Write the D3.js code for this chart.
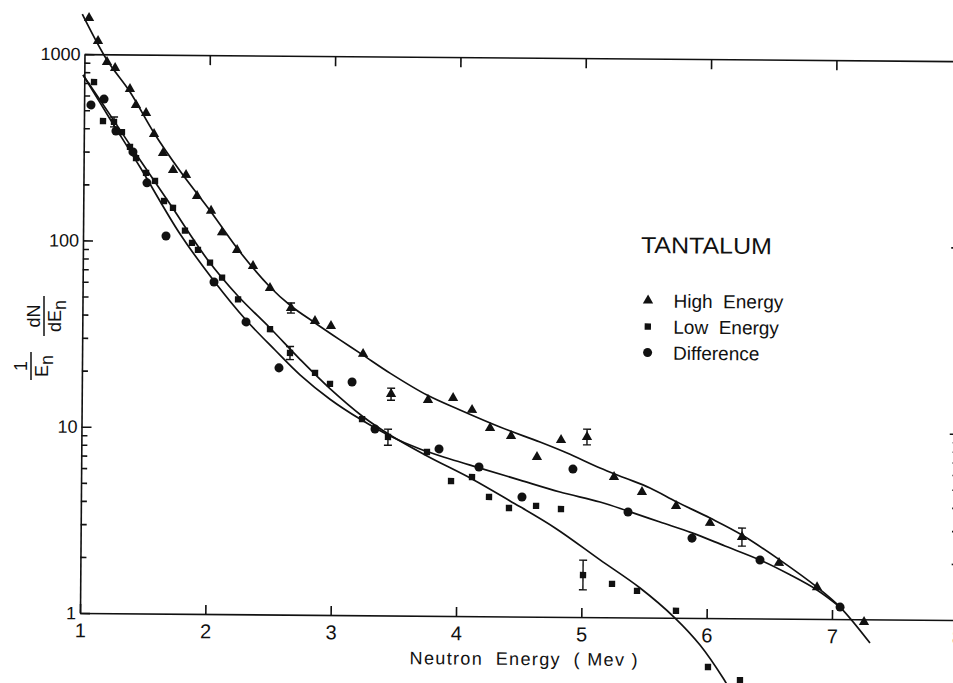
<!DOCTYPE html>

<head>
  <meta charset="utf-8">
  <script src="https://d3js.org/d3.v7.min.js"></script>
  <style>
    body {
      margin: 0;
      background: #fff;
    }

    text {
      font-family: "Liberation Sans", Arial, sans-serif;
      fill: #111;
    }
  </style>
</head>

<body>
  <script>
    // size of the page / picture
    var outerWidth = 953,
      outerHeight = 683;

    // tick values
    var xTicks = [1, 2, 3, 4, 5, 6, 7, 8];
    var topTicks = [2, 3, 4, 5, 6, 7];
    var yTicks = [1, 10, 100, 1000];
    var yMinorTicks = [2, 3, 4, 5, 6, 7, 8, 9, 20, 30, 40, 50, 60, 70, 80, 90, 200, 300, 400, 500, 600, 700, 800, 900];
    var rightTicks = [10, 100];
    var rightMinorTicks = [2, 3, 4, 5, 6, 7, 8, 9];

    // measured points [neutron energy (Mev), 1/En dN/dEn]
    var highEnergy = [
      [1.034, 1564], [1.107, 1178], [1.180, 909], [1.245, 845], [1.365, 653], [1.414, 536], [1.495, 486],
      [1.560, 375], [1.633, 297], [1.714, 241], [1.818, 227], [1.907, 175], [2.020, 146], [2.109, 112],
      [2.230, 90.2], [2.358, 74.1], [2.495, 56.6], [2.664, 44.3], [2.856, 37.8], [2.984, 35.6], [3.242, 25.3],
      [3.468, 15.45], [3.763, 14.4], [3.963, 14.8], [4.115, 12.8], [4.260, 10.25], [4.428, 9.30], [4.636, 7.19],
      [4.827, 8.90], [5.034, 9.26], [5.252, 5.66], [5.476, 4.72], [5.749, 3.98], [6.021, 3.24], [6.277, 2.73],
      [6.574, 1.99], [6.879, 1.48], [7.256, 0.967]
    ];

    var lowEnergy = [
      [1.078, 709], [1.152, 438], [1.240, 434], [1.304, 383], [1.369, 319], [1.418, 278], [1.499, 232],
      [1.571, 210], [1.644, 164], [1.716, 151], [1.813, 114], [1.870, 98], [1.918, 90], [2.015, 77],
      [2.112, 64], [2.241, 49], [2.498, 34], [2.659, 25.4], [2.860, 19.9], [2.980, 17.4], [3.238, 11.3],
      [3.446, 9.08], [3.758, 7.57], [3.952, 5.30], [4.119, 5.58], [4.256, 4.37], [4.416, 3.82], [4.632, 3.93],
      [4.831, 3.79], [5.011, 1.68], [5.243, 1.51], [5.443, 1.39], [5.755, 1.09], [6.014, 0.546], [6.270, 0.466]
    ];

    var difference = [
      [1.055, 534], [1.159, 575], [1.256, 388], [1.393, 300], [1.507, 205], [1.662, 106.5], [2.048, 60.6],
      [2.306, 37.1], [2.572, 21.1], [3.156, 17.85], [3.342, 10.0], [3.854, 7.87], [4.174, 6.32], [4.519, 4.38],
      [4.924, 6.22], [5.366, 3.68], [5.878, 2.68], [6.422, 2.06], [7.064, 1.16]
    ];

    // error bars [energy, low, high]
    var highErrors = [[2.664, 41.6, 47.1], [3.468, 14.3, 16.6], [5.034, 8.4, 10.2], [6.277, 2.44, 3.05]];
    var lowErrors = [[1.240, 408, 461], [2.659, 23.4, 27.5], [3.446, 8.2, 10.0], [5.011, 1.40, 2.02]];

    // the drawn curves
    var highCurve = [
      [0.98, 1640], [1.180, 932], [1.366, 629], [1.560, 380], [1.770, 238], [2.020, 144], [2.254, 88],
      [2.495, 57.3], [2.664, 45.4], [2.857, 36.9], [3.057, 30.0], [3.242, 24.9], [3.458, 20.0], [3.755, 15.3],
      [4.019, 12.76], [4.339, 10.38], [4.659, 8.66], [4.876, 7.58], [5.140, 6.32], [5.340, 5.60], [5.540, 4.96],
      [5.756, 4.18], [6.021, 3.44], [6.277, 2.80], [6.582, 2.06], [6.879, 1.48], [7.064, 1.16], [7.305, 0.746]
    ];

    var lowCurve = [
      [0.990, 772], [1.208, 473], [1.450, 272], [1.692, 158], [1.991, 80.5], [2.240, 51.1], [2.498, 34.5],
      [2.739, 23.5], [2.980, 16.4], [3.238, 11.74], [3.462, 9.31], [3.759, 7.21], [4.119, 5.45], [4.424, 4.17],
      [4.785, 3.00], [5.146, 2.03], [5.467, 1.44], [5.748, 0.997], [5.949, 0.716], [6.135, 0.477], [6.191, 0.412]
    ];

    var diffCurve = [
      [0.990, 772], [1.208, 450], [1.450, 249], [1.774, 109.3], [2.048, 61.4], [2.306, 38.0], [2.539, 26.3],
      [2.740, 19.4], [2.981, 14.4], [3.222, 11.3], [3.462, 9.2], [3.702, 7.85], [3.942, 6.96], [4.182, 6.24],
      [4.502, 5.40], [4.822, 4.68], [5.142, 4.15], [5.366, 3.72], [5.622, 3.26], [5.878, 2.86], [6.142, 2.44],
      [6.422, 2.06], [6.663, 1.72], [6.879, 1.43], [7.064, 1.16]
    ];

    var legendLabels = ["High  Energy", "Low  Energy", "Difference"];

    var ink = "#111";

    var xScale = d3.scaleLinear()
      .domain([1, 8])
      .range([80, 957.3]);

    var yScale = d3.scaleLog()
      .domain([1, 1000])
      .range([613, 54.1]);

    var svg = d3.select("body")
      .append("svg")
      .attr("width", outerWidth)
      .attr("height", outerHeight);

    // the scanned page sits slightly turned clockwise
    var chart = svg.append("g")
      .attr("transform", "rotate(0.46, 80, 613)");

    function styleAxis(g, fontSize) {
      g.attr("font-size", fontSize);
      g.selectAll("path, line").attr("stroke", ink).attr("stroke-width", 1.6);
    }

    // left axis with labels
    chart.append("g")
      .attr("transform", "translate(80,0)")
      .call(d3.axisLeft(yScale).tickValues(yTicks).tickFormat(d3.format("d"))
        .tickSize(-10).tickSizeOuter(0).tickPadding(4))
      .call(styleAxis, 18);

    chart.append("g")
      .attr("transform", "translate(80,0)")
      .call(d3.axisLeft(yScale).tickValues(yMinorTicks).tickFormat("").tickSize(-6).tickSizeOuter(0))
      .call(styleAxis, 10)
      .select(".domain").remove();

    // right side ticks (frame line is off the page)
    chart.append("g")
      .attr("transform", "translate(" + xScale(8) + ",0)")
      .call(d3.axisRight(yScale).tickValues(rightTicks).tickFormat("").tickSize(-9).tickSizeOuter(0))
      .call(styleAxis, 10)
      .select(".domain").remove();

    chart.append("g")
      .attr("transform", "translate(" + xScale(8) + ",0)")
      .call(d3.axisRight(yScale).tickValues(rightMinorTicks).tickFormat("").tickSize(-6).tickSizeOuter(0))
      .call(styleAxis, 10)
      .select(".domain").remove();

    // bottom axis
    chart.append("g")
      .attr("transform", "translate(0," + yScale(1) + ")")
      .call(d3.axisBottom(xScale).tickValues(xTicks).tickFormat(d3.format("d"))
        .tickSize(-9).tickSizeOuter(0).tickPadding(10))
      .call(styleAxis, 20);

    // top axis
    chart.append("g")
      .attr("transform", "translate(0," + yScale(1000) + ")")
      .call(d3.axisTop(xScale).tickValues(topTicks).tickFormat("").tickSize(-10).tickSizeOuter(0))
      .call(styleAxis, 10);

    // curves
    var line = d3.line()
      .x(function(d) { return xScale(d[0]); })
      .y(function(d) { return yScale(d[1]); })
      .curve(d3.curveCatmullRom.alpha(0.5));

    [highCurve, lowCurve, diffCurve].forEach(function(c) {
      chart.append("path")
        .datum(c)
        .attr("d", line)
        .attr("fill", "none")
        .attr("stroke", ink)
        .attr("stroke-width", 1.7);
    });

    // error bars
    function drawErrors(errs) {
      var g = chart.append("g").attr("stroke", ink).attr("stroke-width", 1.4);
      errs.forEach(function(e) {
        var x = xScale(e[0]);
        g.append("line").attr("x1", x).attr("x2", x).attr("y1", yScale(e[1])).attr("y2", yScale(e[2]));
        g.append("line").attr("x1", x - 4).attr("x2", x + 4).attr("y1", yScale(e[1])).attr("y2", yScale(e[1]));
        g.append("line").attr("x1", x - 4).attr("x2", x + 4).attr("y1", yScale(e[2])).attr("y2", yScale(e[2]));
      });
    }
    drawErrors(highErrors);
    drawErrors(lowErrors);

    // markers
    var triangle = d3.symbol().type(d3.symbolTriangle).size(46);
    var square = d3.symbol().type(d3.symbolSquare).size(40);
    var circle = d3.symbol().type(d3.symbolCircle).size(64);

    function drawPoints(data, sym) {
      chart.append("g")
        .selectAll("path")
        .data(data)
        .enter()
        .append("path")
        .attr("d", sym)
        .attr("fill", ink)
        .attr("transform", function(d) {
          return "translate(" + xScale(d[0]) + "," + yScale(d[1]) + ")";
        });
    }
    drawPoints(highEnergy, triangle);
    drawPoints(lowEnergy, square);
    drawPoints(difference, circle);

    // title and legend
    chart.append("text")
      .attr("x", 638)
      .attr("y", 248.5)
      .attr("font-size", 23)
      .attr("textLength", 131)
      .attr("lengthAdjust", "spacingAndGlyphs")
      .text("TANTALUM");

    var legendSymbols = [triangle, square, circle];
    legendLabels.forEach(function(label, i) {
      var y = 296 + i * 26;
      chart.append("path")
        .attr("d", legendSymbols[i])
        .attr("fill", ink)
        .attr("transform", "translate(645.5," + y + ")");
      chart.append("text")
        .attr("x", 671)
        .attr("y", y + 7)
        .attr("font-size", 19)
        .style("white-space", "pre")
        .text(label);
    });

    // x axis title
    chart.append("text")
      .attr("x", 410)
      .attr("y", 661.5)
      .attr("font-size", 18)
      .attr("textLength", 228)
      .attr("lengthAdjust", "spacing")
      .style("white-space", "pre")
      .text("Neutron  Energy  ( Mev )");

    // y axis title: 1/En dN/dEn, turned on its side
    function fraction(cx, cy, top, bottom, half) {
      var g = svg.append("g")
        .attr("transform", "translate(" + cx + "," + cy + ") rotate(-90)");
      g.append("line")
        .attr("x1", -half).attr("x2", half)
        .attr("stroke", ink).attr("stroke-width", 1.5);
      g.append("text")
        .attr("y", -4)
        .attr("text-anchor", "middle")
        .attr("font-size", 18)
        .text(top);
      var t = g.append("text")
        .attr("y", 17)
        .attr("text-anchor", "middle")
        .attr("font-size", 18);
      t.append("tspan").text(bottom);
      t.append("tspan").attr("dy", "0.25em").text("n");
    }
    fraction(31, 366, "1", "E", 14);
    fraction(44, 316, "dN", "dE", 20);
  </script>
</body>
